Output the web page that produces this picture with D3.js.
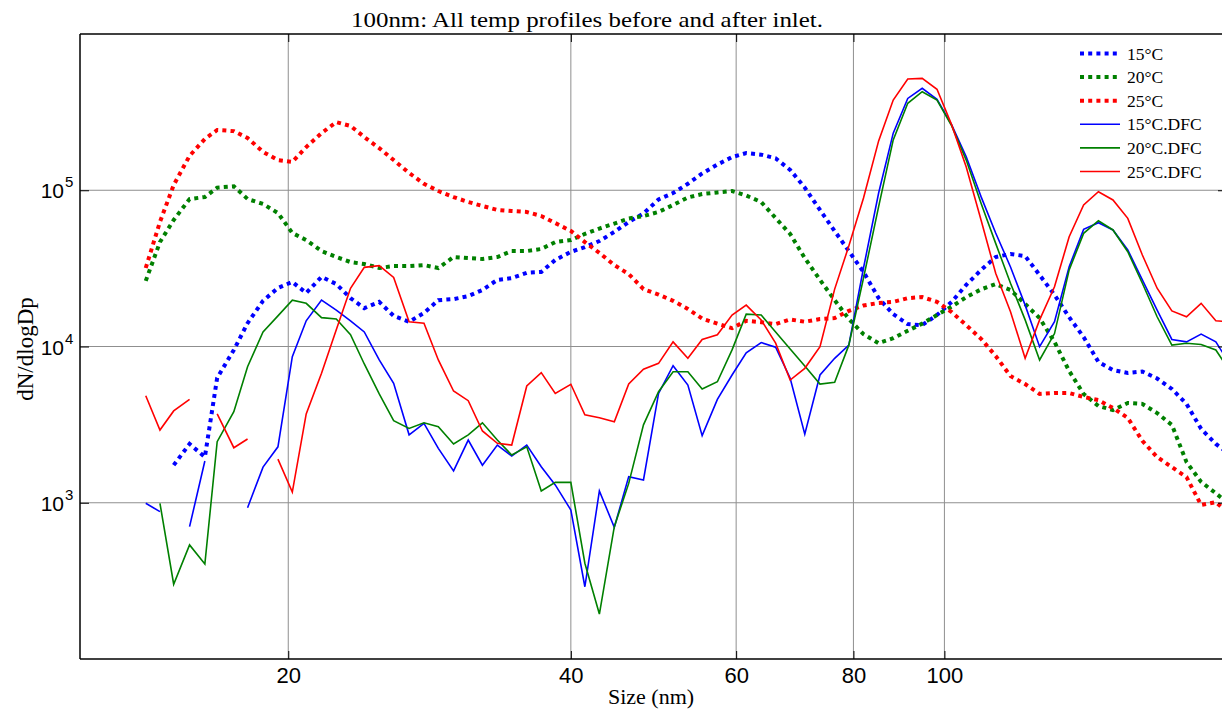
<!DOCTYPE html>
<html>
<head>
<meta charset="utf-8">
<script src="https://cdn.jsdelivr.net/npm/d3@7"></script>
<style>
  html, body { margin: 0; padding: 0; background: #fff; }
  svg { display: block; }
</style>
</head>
<body>
<svg id="chart" width="1222" height="711"></svg>
<script>
// ---------------- DATA ----------------
const sizes = [14.1,14.6,15.1,15.7,16.3,16.8,17.5,18.1,18.8,19.5,
  20.2,20.9,21.7,22.5,23.3,24.1,25.0,25.9,26.9,27.9,
  28.9,30.0,31.1,32.2,33.4,34.6,35.9,37.2,38.5,40.0,
  41.4,42.9,44.5,46.1,47.8,49.6,51.4,53.3,55.2,57.3,
  59.4,61.5,63.8,66.1,68.5,71.0,73.7,76.4,79.1,82.0,
  85.1,88.2,91.4,94.7,98.2,101.8,105.5,109.4,113.4,117.6,
  121.9,126.3,131.0,135.8,140.7,145.9,151.2,156.8,162.5,168.5,
  174.7,181.1,187.7,194.6,201.7];

const t15 = [null,null,1740,2380,1960,6300,9500,14100,19600,23700,
  25900,22000,27900,25100,20400,17600,19300,15700,14400,16400,
  19800,20100,21000,23000,26700,27400,29600,30000,35800,40300,
  43300,47300,54100,62600,71000,87300,96000,110000,128000,146000,
  163000,173000,169000,160000,135000,104000,74800,54800,40800,30000,
  20400,16100,13900,13700,15900,19300,24800,30900,37400,39100,
  37900,28700,21400,15400,11500,7960,7070,6770,6920,6240,
  5350,4290,2970,2380,2020];

const t20 = [26300,46600,64500,87900,90500,104000,106000,87900,81700,71500,
  53300,48000,40800,37400,34700,33700,31800,32700,32700,33200,
  31800,37400,36800,36300,37400,40800,40800,42100,46600,48000,
  52500,56900,61200,65900,68400,72600,80500,89900,94600,96800,
  98900,92500,84100,66400,52500,36800,26700,19800,15000,12000,
  10500,11300,12600,14000,15900,18000,20700,23200,25100,23000,
  18700,15200,10700,6970,4970,4160,3920,4350,4290,3750,
  3150,1820,1360,1150,968];

const t25 = [31800,62700,108000,166000,213000,243000,239000,216000,176000,156000,
  152000,189000,232000,273000,258000,219000,186000,156000,129000,110000,
  98900,90500,84100,79300,74800,73600,72600,68400,61700,54900,
  46600,39700,33200,29100,23300,21500,19600,17400,15100,14000,
  13100,14600,14300,13900,14900,14400,15000,15200,16900,18300,
  19000,19300,20400,20700,19300,16600,13700,11200,8690,6470,
  5750,4970,5040,5040,4750,4540,4040,3490,2490,1960,
  1690,1460,968,1010,836];

const t15dfc = [992,877,null,703,1850,null,null,930,1690,2280,
  8610,14600,19800,17100,14600,12400,8200,5810,2720,3220,
  2230,1600,2520,1740,2340,1990,2340,1700,1300,899,
  290,1190,696,1470,1400,5010,7540,5670,2690,4590,
  6570,9120,10600,9890,6260,2750,6570,8400,10200,31800,
  96000,232000,387000,449000,382000,262000,164000,91000,53300,32300,
  18400,9970,14400,32400,56200,62000,55700,41500,26700,17100,
  11100,10700,12000,10700,7620];

const t20dfc = [null,992,301,537,405,2460,3830,7430,12400,15700,
  19800,18900,15300,15000,11900,7730,4970,3350,2990,3250,
  3070,2380,2720,3250,2520,2020,2280,1190,1350,1350,
  410,194,703,1330,3150,5140,6900,6900,5350,5950,
  9510,16100,15900,12400,9640,7500,5750,5900,10200,27400,
  78500,210000,360000,427000,378000,258000,156000,82500,45700,25400,
  14800,8200,12100,30900,53000,63800,55700,40400,25400,15500,
  10200,10500,10300,9500,6870];

const t25dfc = [4840,2920,3870,4590,null,3700,2250,2560,null,1900,
  1170,3700,6740,12800,23600,32100,32900,27700,14400,14100,
  8200,5190,4500,2880,2400,2340,5590,6800,5010,5730,
  3650,3500,3300,5750,7150,7800,10700,8400,11100,11900,
  15900,18400,14800,10500,6100,7250,9970,23300,44000,89200,
  207000,378000,515000,520000,443000,262000,141000,64500,29400,16700,
  8400,14800,24100,50400,80500,97900,86700,66100,38500,23600,
  16900,15500,18900,14600,14400];

const seriesNames = ["15°C","20°C","25°C","15°C.DFC","20°C.DFC","25°C.DFC"];
const xTicks = [20, 40, 60, 80, 100];
const yTicks = [1e3, 1e4, 1e5];
const yTickExp = ["3", "4", "5"];
const titleText = "100nm: All temp profiles before and after inlet.";
const xLabel = "Size (nm)";
const yLabel = "dN/dlogDp";

// ---------------- LAYOUT ----------------
const svg = d3.select("#chart");
const L = 80, T = 34, B = 659, R = 1227;
const x = d3.scaleLog().domain([12, 200]).range([L, R]);
const y = d3.scaleLog().domain([100, 1e6]).range([B, T]);

const series = [
  {name: seriesNames[0], vals: t15, color: "#0000ff", dotted: true},
  {name: seriesNames[1], vals: t20, color: "#008000", dotted: true},
  {name: seriesNames[2], vals: t25, color: "#ff0000", dotted: true},
  {name: seriesNames[3], vals: t15dfc, color: "#0000ff", dotted: false},
  {name: seriesNames[4], vals: t20dfc, color: "#008000", dotted: false},
  {name: seriesNames[5], vals: t25dfc, color: "#ff0000", dotted: false}
];

svg.append("defs").append("clipPath").attr("id", "plotclip")
  .append("rect").attr("x", L).attr("y", T).attr("width", R - L).attr("height", B - T);

// grid
const grid = svg.append("g");
grid.selectAll("line.vx").data(xTicks).enter().append("line")
  .attr("x1", d => x(d)).attr("x2", d => x(d)).attr("y1", T).attr("y2", B)
  .attr("stroke", "#8f8f8f").attr("stroke-width", 1);
grid.selectAll("line.hy").data(yTicks).enter().append("line")
  .attr("x1", L).attr("x2", R).attr("y1", d => y(d)).attr("y2", d => y(d))
  .attr("stroke", "#8f8f8f").attr("stroke-width", 1);

// lines
const plot = svg.append("g").attr("clip-path", "url(#plotclip)");
const lineGen = vals => d3.line()
  .defined((d, i) => vals[i] != null && vals[i] > 0)
  .x((d, i) => x(sizes[i]))
  .y((d, i) => y(vals[i] || 1))(vals);

series.forEach(s => {
  plot.append("path")
    .attr("d", lineGen(s.vals))
    .attr("fill", "none")
    .attr("stroke", s.color)
    .attr("stroke-width", s.dotted ? 4 : 1.6)
    .attr("stroke-dasharray", s.dotted ? "4,4.2" : null)
    .attr("stroke-linejoin", "miter")
    .attr("stroke-linecap", "butt");
});

// axes frame
const frame = svg.append("g");
[[L, T, R, T], [L, B, R, B], [L, T, L, B], [R, T, R, B]].forEach(c => {
  frame.append("line").attr("x1", c[0]).attr("y1", c[1]).attr("x2", c[2]).attr("y2", c[3])
    .attr("stroke", "#000").attr("stroke-width", 1.5);
});

// ticks via d3 axes
const xAxisB = d3.axisBottom(x).tickValues(xTicks).tickSize(-8).tickFormat(d3.format("d"));
const gxb = svg.append("g").attr("transform", `translate(0,${B})`).call(xAxisB);
gxb.select(".domain").remove();
gxb.selectAll(".tick line").attr("stroke", "#000").attr("stroke-width", 1);
gxb.selectAll(".tick text").attr("font-family", "Liberation Sans, Arial, sans-serif")
  .attr("font-size", 22).attr("fill", "#000").attr("dy", null).attr("y", 24);

const xAxisT = d3.axisTop(x).tickValues(xTicks).tickSize(-8).tickFormat("");
const gxt = svg.append("g").attr("transform", `translate(0,${T})`).call(xAxisT);
gxt.select(".domain").remove();
gxt.selectAll(".tick line").attr("stroke", "#000").attr("stroke-width", 1);

const yAxisL = d3.axisLeft(y).tickValues(yTicks).tickSize(-9).tickFormat("");
const gyl = svg.append("g").attr("transform", `translate(${L},0)`).call(yAxisL);
gyl.select(".domain").remove();
gyl.selectAll(".tick line").attr("stroke", "#000").attr("stroke-width", 1);

const yAxisR = d3.axisRight(y).tickValues(yTicks).tickSize(-9).tickFormat("");
const gyr = svg.append("g").attr("transform", `translate(${R},0)`).call(yAxisR);
gyr.select(".domain").remove();
gyr.selectAll(".tick line").attr("stroke", "#000").attr("stroke-width", 1);

// y tick labels 10^n
yTicks.forEach((v, i) => {
  svg.append("text")
    .attr("x", 64).attr("y", y(v) + 8)
    .attr("text-anchor", "end")
    .attr("font-family", "Liberation Sans, Arial, sans-serif")
    .attr("font-size", 21).attr("fill", "#000").text("10");
  svg.append("text")
    .attr("x", 65).attr("y", y(v) - 3)
    .attr("font-family", "Liberation Sans, Arial, sans-serif")
    .attr("font-size", 15).attr("fill", "#000").text(yTickExp[i]);
});

// title
svg.append("text").attr("x", 587).attr("y", 27)
  .attr("text-anchor", "middle")
  .attr("font-family", "Liberation Serif, Times New Roman, serif")
  .attr("font-size", 21).attr("fill", "#000")
  .attr("textLength", 472).attr("lengthAdjust", "spacingAndGlyphs")
  .text(titleText);

// axis labels
svg.append("text").attr("x", 651).attr("y", 704)
  .attr("text-anchor", "middle")
  .attr("font-family", "Liberation Serif, Times New Roman, serif")
  .attr("font-size", 22).attr("fill", "#000").text(xLabel);

svg.append("text")
  .attr("transform", `translate(33,349) rotate(-90)`)
  .attr("text-anchor", "middle")
  .attr("font-family", "Liberation Serif, Times New Roman, serif")
  .attr("font-size", 23).attr("fill", "#000").text(yLabel);

// legend
const leg = svg.append("g");
series.forEach((s, i) => {
  const cy = 53.5 + i * 23.6;
  leg.append("line").attr("x1", 1080).attr("x2", 1120).attr("y1", cy).attr("y2", cy)
    .attr("stroke", s.color)
    .attr("stroke-width", s.dotted ? 4 : 1.6)
    .attr("stroke-dasharray", s.dotted ? "4,4.2" : null);
  leg.append("text").attr("x", 1127).attr("y", cy + 6)
    .attr("font-family", "Liberation Serif, Times New Roman, serif")
    .attr("font-size", 17.5).attr("fill", "#000").text(s.name);
});
</script>
</body>
</html>
